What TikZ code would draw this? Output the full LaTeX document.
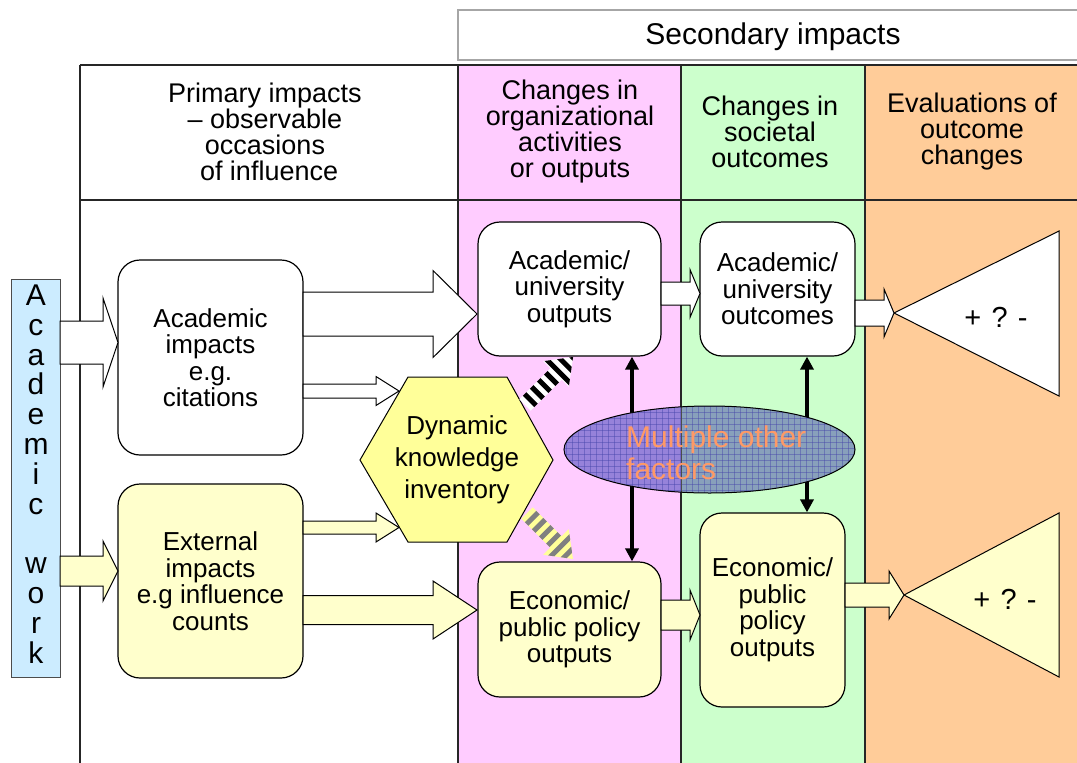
\documentclass[tikz,border=0pt]{standalone}
\usepackage{fontspec}
\setmainfont{Liberation Sans}
\usetikzlibrary{arrows.meta}
\definecolor{pinkc}{HTML}{FFCCFF}
\definecolor{greenc}{HTML}{CCFFCC}
\definecolor{orangec}{HTML}{FFCC99}
\definecolor{yelL}{HTML}{FFFFCC}
\definecolor{yelH}{HTML}{FFFF99}
\definecolor{blueL}{HTML}{CCECFF}
\definecolor{ellpink}{RGB}{150,130,218}
\definecolor{ellgreen}{RGB}{136,160,187}
\definecolor{gridc}{RGB}{70,70,170}
\definecolor{mofc}{HTML}{FF9966}
\definecolor{stripeg}{RGB}{128,128,128}
\newcommand\blockarr[7]{\filldraw[blk, fill=#7] (#1,#4-#5) -- (#2,#4-#5) -- (#2,#4-#6) -- (#3,#4) -- (#2,#4+#6) -- (#2,#4+#5) -- (#1,#4+#5) -- cycle;}
\newcommand\stripearr[5]{%
\begin{scope}[shift={#1}, rotate=#2]
\begin{scope}
\clip (0,-8) -- (#3-24,-8) -- (#3-24,-18) -- (#3,0) -- (#3-24,18) -- (#3-24,8) -- (0,8) -- cycle;
\fill[#5] (0,-20) rectangle (#3,20);
\foreach \i in {1,3,...,15} {\fill[#4] (\i*5,-20) rectangle (\i*5+5,20);}
\end{scope}
\end{scope}}
\begin{document}
\begin{tikzpicture}[x=1pt,y=-1pt,
  box/.style={draw=black, line width=1.2pt, rounded corners=22pt, inner sep=0pt, align=center, font=\fontsize{26}{26.5}\selectfont},
  hdr/.style={align=center, font=\fontsize{27}{26}\selectfont, inner sep=0pt},
  colline/.style={draw=black!85, line width=1.2pt},
  blk/.style={draw=black, line width=1pt, line join=miter},
  varr/.style={line width=3.5pt, {Triangle[length=13pt,width=13pt]}-{Triangle[length=13pt,width=13pt]}}]
\useasboundingbox (0,0) rectangle (1077,763);
\fill[white] (0,0) rectangle (1077,763);
% columns
\fill[pinkc] (458,65) rectangle (681,763);
\fill[greenc] (681,65) rectangle (865,763);
\fill[orangec] (865,65) rectangle (1077,763);
\draw[colline] (80,65) -- (1077,65);
\draw[colline] (80,200) -- (1077,200);
\draw[colline] (80,65) -- (80,763);
\draw[colline] (458,65) -- (458,763);
\draw[colline] (681,65) -- (681,763);
\draw[colline] (865,65) -- (865,763);
% secondary impacts
\draw[draw=black!35, line width=1.2pt, fill=white] (458,10) rectangle (1090,60);
\node[hdr, font=\fontsize{30}{30}\selectfont] (sec) at (773,37) {Secondary impacts};
% headers
\node[hdr] (ph) at (265,132) {Primary impacts\\– observable\\occasions\\\hspace*{0.3em}of influence};
\node[hdr] (hc1) at (570,132) {Changes in\\organizational\\activities\\or outputs};
\node[hdr] (hc2) at (770,132) {Changes in\\societal\\outcomes};
\node[hdr] (hc3) at (972,132) {Evaluations of\\outcome\\changes};
% academic work bar
\node[draw=black!70, line width=1pt, fill=blueL, minimum width=49pt, minimum height=398pt, inner sep=0pt] (aw) at (35.5,478) {};
\node[align=center, font=\fontsize{30}{29.8}\selectfont, inner sep=0pt] (awt) at (36,474) {A\\c\\a\\d\\e\\m\\i\\c\\[29.8pt]w\\o\\r\\k};
% boxes
\node[box, fill=white, minimum width=185pt, minimum height=195pt] (ai) at (210.5,357.5) {Academic\\impacts\\e.g.\\citations};
\node[box, fill=yelL, minimum width=185pt, minimum height=194pt] (ei) at (210.5,581) {External\\impacts\\e.g influence\\counts};
\node[box, fill=white, minimum width=183pt, minimum height=134pt] (ao) at (569.5,289) {Academic/\\university\\outputs};
\node[box, fill=yelL, minimum width=183pt, minimum height=135pt] (eo) at (569.5,629.5) {Economic/\\public policy\\outputs};
\node[box, fill=white, minimum width=155pt, minimum height=134pt] (ac) at (777.5,289) {Academic/\\university\\outcomes};
\node[box, fill=yelL, minimum width=145pt, minimum height=194pt] (eo2) at (772.5,610) {Economic/\\public\\policy\\outputs};
% hexagon
\filldraw[fill=yelH, draw=black, line width=1pt] (360,460) -- (408,377) -- (507,377) -- (553,460) -- (507,542) -- (408,542) -- cycle;
\node[align=center, font=\fontsize{26}{32}\selectfont, inner sep=0pt] (dki) at (457,460) {Dynamic\\knowledge\\inventory};
% triangles
\coordinate (t1tip) at (894,313);
\coordinate (t2tip) at (904,595);
\filldraw[fill=white, draw=black, line width=1pt] (t1tip) -- (1059,231) -- (1059,396) -- cycle;
\filldraw[fill=yelL, draw=black, line width=1pt] (t2tip) -- (1059,513) -- (1059,677) -- cycle;
\node[font=\fontsize{29}{29}\selectfont, inner sep=0pt] (pm1) at (996,317) {+\hspace{0.35em}?\hspace{0.35em}-};
\node[font=\fontsize{29}{29}\selectfont, inner sep=0pt] (pm2) at (1005,599) {+\hspace{0.35em}?\hspace{0.35em}-};
% block arrows
\blockarr{60}{103}{118}{342.5}{21.5}{44.5}{white}
\blockarr{60}{103}{118}{571}{15}{30}{yelL}
\blockarr{303}{433}{477}{314}{22}{43.5}{white}
\blockarr{303}{376}{399}{391}{7}{14.5}{white}
\blockarr{303}{376}{399}{527.5}{6.5}{14.5}{yelL}
\blockarr{303}{433}{477}{610}{14.5}{29}{yelL}
\blockarr{661}{690}{700}{293.5}{11.5}{24}{white}
\blockarr{661}{690}{700}{615}{15}{25}{yelL}
\blockarr{855}{884}{894}{313}{13}{24}{white}
\blockarr{845}{889}{904}{595}{12}{24}{yelL}
% vertical double arrows
\coordinate (vxa) at (632,0);
\coordinate (vxb) at (807,0);
\draw[varr] (ao.south -| vxa) -- (eo.north -| vxa);
\draw[varr] (ac.south -| vxb) -- (eo2.north -| vxb);
% ellipse
\begin{scope}
\clip (709.5,449.5) ellipse [x radius=145.5, y radius=43.5];
\fill[ellpink] (560,400) rectangle (681,500);
\fill[ellgreen] (681,400) rectangle (860,500);
\foreach \gx in {560,566,...,860} {\draw[gridc, line width=0.4pt, opacity=0.45] (\gx,400) -- (\gx,500);}
\foreach \gy in {400,406,...,500} {\draw[gridc, line width=0.4pt, opacity=0.45] (560,\gy) -- (860,\gy);}
\draw[black!70, line width=1pt] (681,400) -- (681,500);
\end{scope}
\draw[black, line width=1pt] (709.5,449.5) ellipse [x radius=145.5, y radius=43.5];
\node[anchor=west, align=left, text=mofc, font=\fontsize{30}{32}\selectfont, inner sep=0pt] (mof) at (626,453) {Multiple other\\factors};
% striped arrows
\stripearr{(525,405)}{45}{68}{black}{white}
\stripearr{(527,513)}{-45}{65}{stripeg}{yelH}
\end{tikzpicture}
\end{document}
